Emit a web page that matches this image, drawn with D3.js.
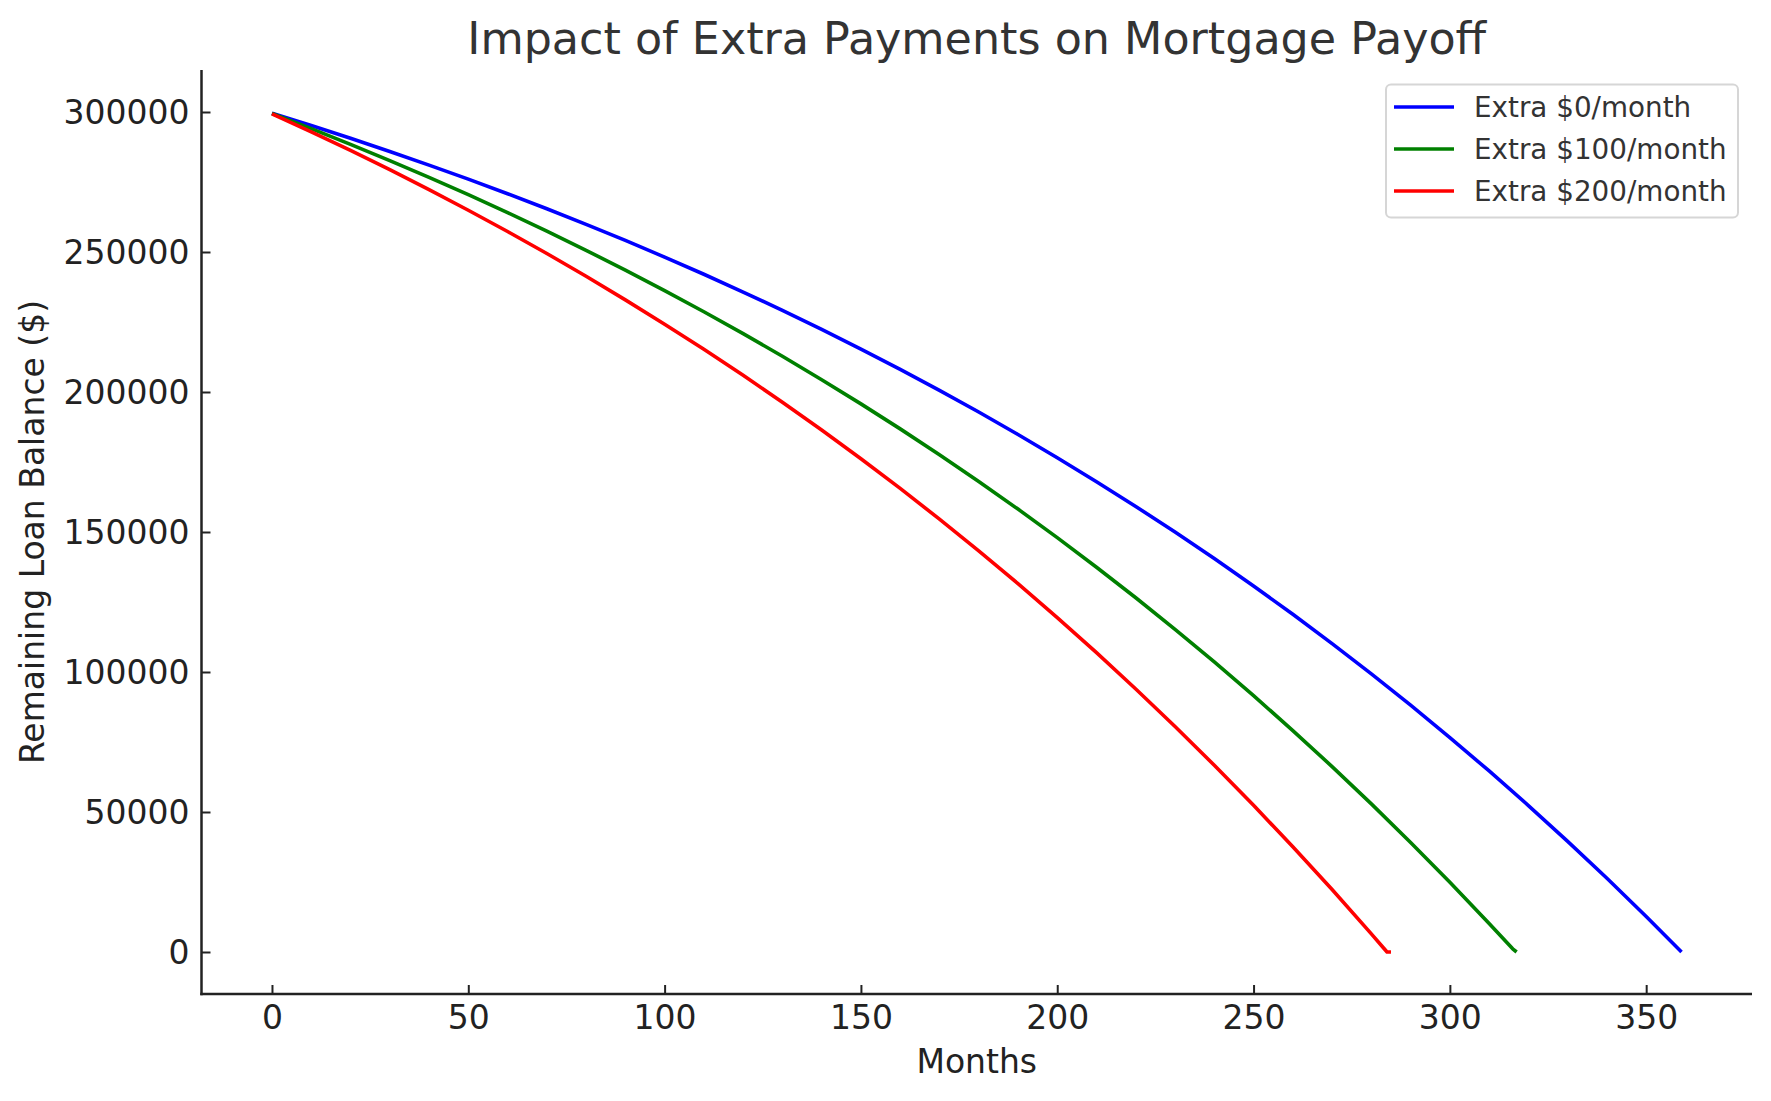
<!DOCTYPE html>
<html>
<head>
<meta charset="utf-8">
<script src="https://cdn.jsdelivr.net/npm/d3@7"></script>
<style>
  html, body { margin: 0; padding: 0; background: #ffffff; }
  svg { display: block; }
  text { font-family: "DejaVu Sans", sans-serif; }
</style>
</head>
<body>
<svg id="chart" width="1771" height="1101"></svg>
<script>
// ---- Data ----
const monthsBase = [0,10,20,30,40,50,60,70,80,90,100,110,120,130,140,150,160,170,180,190,200,210,220,230,240,250,260,270,280,290,300,310,320,330,340,350,359];
const balanceBase = [299568,295165,290614,285908,281043,276013,270814,265438,259882,254136,248196,242056,235707,229143,222357,215342,208090,200592,192840,184827,176541,167976,159120,149966,140500,130716,120599,110140,99328,88149,76593,64645,52294,39524,26322,12674,0];

const months100 = [0,10,20,30,40,50,60,70,80,90,100,110,120,130,140,150,160,170,180,190,200,210,220,230,240,250,260,270,280,290,300,310,316,317];
const balance100 = [299468,294047,288442,282649,276658,270464,264062,257443,250599,243526,236212,228650,220833,212751,204395,195757,186827,177594,168049,158180,147978,137431,126528,115255,103600,91551,79095,66217,52903,39139,24909,10198,1132,0];

const months200 = [0,10,20,30,40,50,60,70,80,90,100,110,120,130,140,150,160,170,180,190,200,210,220,230,240,250,260,270,280,283,284,285];
const balance200 = [299368,292928,286270,279388,272273,264915,257315,249448,241319,232914,224226,215243,205958,196358,186433,176170,165562,154595,143256,131536,119417,106888,93935,80545,66700,52386,37589,22293,6478,1622,0,0];

const seriesNames = ["Extra $0/month", "Extra $100/month", "Extra $200/month"];
const seriesColors = ["#0000ff", "#008000", "#ff0000"];
const xTicks = [0, 50, 100, 150, 200, 250, 300, 350];
const yTicks = [0, 50000, 100000, 150000, 200000, 250000, 300000];

const titleText = "Impact of Extra Payments on Mortgage Payoff";
const xLabel = "Months";
const yLabel = "Remaining Loan Balance ($)";

// ---- Layout ----
const svg = d3.select("#chart");
const plot = { left: 201.5, right: 1752, top: 70, bottom: 994 };

const xMin = -17.95, xMax = 376.95;
const yMin = -15000, yMax = 315000;

const x = d3.scaleLinear().domain([xMin, xMax]).range([plot.left, plot.right]);
const y = d3.scaleLinear().domain([yMin, yMax]).range([plot.bottom, plot.top]);

const axisColor = "#222222";

// Lines
const series = [
  { name: seriesNames[0], color: seriesColors[0], m: monthsBase, b: balanceBase },
  { name: seriesNames[1], color: seriesColors[1], m: months100, b: balance100 },
  { name: seriesNames[2], color: seriesColors[2], m: months200, b: balance200 }
];

const line = d3.line()
  .x(d => x(d[0]))
  .y(d => y(d[1]))
  .curve(d3.curveLinear);

const gLines = svg.append("g");
series.forEach(s => {
  const pts = s.m.map((mm, i) => [mm, s.b[i]]);
  gLines.append("path")
    .attr("d", line(pts))
    .attr("fill", "none")
    .attr("stroke", s.color)
    .attr("stroke-width", 3.6)
    .attr("stroke-linejoin", "round")
    .attr("stroke-linecap", "butt");
});

// X axis (ticks pointing inward)
const xAxis = d3.axisBottom(x)
  .tickValues(xTicks)
  .tickFormat(d3.format("d"))
  .tickSizeInner(-9)
  .tickSizeOuter(0)
  .tickPadding(0);

const gx = svg.append("g")
  .attr("transform", `translate(0,${plot.bottom})`)
  .call(xAxis);
gx.select(".domain").remove();
gx.selectAll(".tick line").attr("stroke", axisColor).attr("stroke-width", 2);
gx.selectAll(".tick text")
  .attr("fill", axisColor)
  .attr("font-size", "33px")
  .attr("y", 0)
  .attr("dy", null)
  .attr("transform", "translate(0,35)");

// Y axis (ticks pointing inward)
const yAxis = d3.axisLeft(y)
  .tickValues(yTicks)
  .tickFormat(d3.format("d"))
  .tickSizeInner(-9)
  .tickSizeOuter(0)
  .tickPadding(0);

const gy = svg.append("g")
  .attr("transform", `translate(${plot.left},0)`)
  .call(yAxis);
gy.select(".domain").remove();
gy.selectAll(".tick line").attr("stroke", axisColor).attr("stroke-width", 2);
gy.selectAll(".tick text")
  .attr("fill", axisColor)
  .attr("font-size", "33px")
  .attr("x", -12)
  .attr("dy", "0.36em");

// Spines (left and bottom only)
svg.append("line")
  .attr("x1", plot.left).attr("x2", plot.left)
  .attr("y1", plot.top).attr("y2", plot.bottom + 1.2)
  .attr("stroke", axisColor).attr("stroke-width", 2.5);
svg.append("line")
  .attr("x1", plot.left - 1.2).attr("x2", plot.right)
  .attr("y1", plot.bottom).attr("y2", plot.bottom)
  .attr("stroke", axisColor).attr("stroke-width", 2.5);

// Title
svg.append("text")
  .attr("x", (plot.left + plot.right) / 2)
  .attr("y", 54)
  .attr("text-anchor", "middle")
  .attr("font-size", "44.4px")
  .attr("fill", "#333333")
  .text(titleText);

// Axis labels
svg.append("text")
  .attr("x", (plot.left + plot.right) / 2)
  .attr("y", 1073)
  .attr("text-anchor", "middle")
  .attr("font-size", "33px")
  .attr("fill", axisColor)
  .text(xLabel);

svg.append("text")
  .attr("transform", `translate(44,${(plot.top + plot.bottom) / 2}) rotate(-90)`)
  .attr("text-anchor", "middle")
  .attr("font-size", "33px")
  .attr("fill", axisColor)
  .text(yLabel);

// Legend
const lg = svg.append("g");
lg.append("rect")
  .attr("x", 1386).attr("y", 84.5)
  .attr("width", 352).attr("height", 133)
  .attr("rx", 5).attr("ry", 5)
  .attr("fill", "#ffffff").attr("fill-opacity", 0.8)
  .attr("stroke", "#d6d6d6").attr("stroke-width", 2);

const legendRowY = [107, 149, 191];
series.forEach((s, i) => {
  lg.append("line")
    .attr("x1", 1394).attr("x2", 1454)
    .attr("y1", legendRowY[i]).attr("y2", legendRowY[i])
    .attr("stroke", s.color).attr("stroke-width", 3.6);
  lg.append("text")
    .attr("x", 1474)
    .attr("y", legendRowY[i])
    .attr("dy", "0.36em")
    .attr("font-size", "27.8px")
    .attr("fill", "#333333")
    .text(s.name);
});
</script>
</body>
</html>
